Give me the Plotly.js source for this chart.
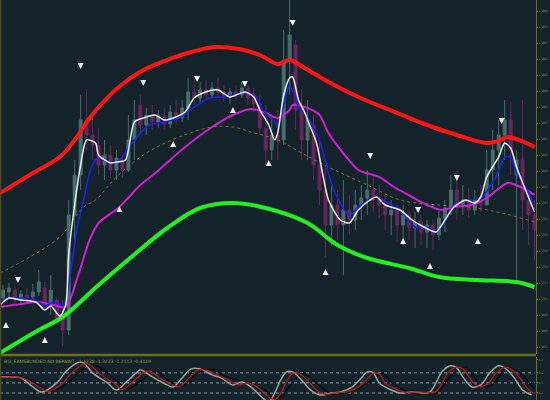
<!DOCTYPE html>
<html><head><meta charset="utf-8">
<script src="https://cdn.plot.ly/plotly-3.0.1.min.js"></script>
<style>html,body{margin:0;padding:0;background:#132329;}#chart{width:550px;height:400px;}</style>
</head><body><div id="chart"></div>
<script>
// ---- Candles (bar index, OHLC prices) ----
const candleX = [1,3,5,7,9,11,13,15,17,19,21,23,25,27,29,31,33,35,37,39,41,43,45,47,49,51,53,55,57,59,61,63,65,67,69,71,73,75,77,79,81,83,85,87,89,91,93,95,97,99,101,103,105,107,109,111,113,115,117,119,121,123,125,127,129,131,133,135,137,139,141,143,145,147,149,151,153,155,157,159,161,163,165,167,169,171,173,175,177,179];
const candleOpen = [1.3702,1.3708,1.3710,1.3700,1.3705,1.3703,1.3708,1.3712,1.3695,1.3700,1.3682,1.3670,1.3785,1.3825,1.3880,1.3865,1.3855,1.3835,1.3845,1.3830,1.3840,1.3830,1.3860,1.3895,1.3875,1.3885,1.3878,1.3884,1.3876,1.3888,1.3882,1.3892,1.3908,1.3902,1.3910,1.3905,1.3912,1.3908,1.3904,1.3908,1.3905,1.3912,1.3902,1.3896,1.3872,1.3850,1.3865,1.3860,1.3940,1.3955,1.3890,1.3860,1.3875,1.3835,1.3810,1.3775,1.3795,1.3775,1.3790,1.3780,1.3795,1.3802,1.3810,1.3800,1.3795,1.3785,1.3790,1.3775,1.3785,1.3772,1.3778,1.3768,1.3775,1.3765,1.3782,1.3792,1.3810,1.3795,1.3800,1.3790,1.3800,1.3795,1.3830,1.3850,1.3865,1.3880,1.3825,1.3840,1.3800,1.3785];
const candleHigh = [1.3715,1.3717,1.3714,1.3710,1.3712,1.3716,1.3730,1.3718,1.3725,1.3702,1.3700,1.3800,1.3840,1.3905,1.3910,1.3885,1.3872,1.3860,1.3855,1.3850,1.3845,1.3885,1.3900,1.3905,1.3892,1.3895,1.3890,1.3892,1.3895,1.3900,1.3900,1.3922,1.3920,1.3918,1.3920,1.3918,1.3922,1.3915,1.3912,1.3915,1.3918,1.3915,1.3912,1.3905,1.3895,1.3885,1.3890,1.3970,1.4000,1.3960,1.3910,1.3900,1.3885,1.3860,1.3835,1.3815,1.3810,1.3820,1.3805,1.3810,1.3815,1.3830,1.3825,1.3815,1.3805,1.3800,1.3795,1.3795,1.3790,1.3788,1.3785,1.3780,1.3780,1.3790,1.3800,1.3825,1.3830,1.3815,1.3812,1.3810,1.3815,1.3850,1.3870,1.3880,1.3900,1.3898,1.3850,1.3900,1.3805,1.3800];
const candleLow = [1.3700,1.3702,1.3695,1.3697,1.3698,1.3700,1.3704,1.3690,1.3685,1.3678,1.3654,1.3665,1.3760,1.3810,1.3850,1.3840,1.3825,1.3820,1.3822,1.3820,1.3822,1.3828,1.3840,1.3865,1.3865,1.3870,1.3872,1.3870,1.3872,1.3875,1.3878,1.3880,1.3895,1.3898,1.3900,1.3902,1.3902,1.3898,1.3896,1.3900,1.3902,1.3895,1.3888,1.3865,1.3835,1.3840,1.3840,1.3855,1.3905,1.3870,1.3840,1.3840,1.3820,1.3795,1.3743,1.3755,1.3760,1.3725,1.3765,1.3770,1.3780,1.3785,1.3788,1.3782,1.3770,1.3765,1.3758,1.3755,1.3760,1.3752,1.3755,1.3752,1.3750,1.3760,1.3768,1.3785,1.3780,1.3785,1.3782,1.3785,1.3788,1.3795,1.3810,1.3815,1.3840,1.3825,1.3720,1.3770,1.3755,1.3740];
const candleClose = [1.3710,1.3712,1.3700,1.3706,1.3703,1.3708,1.3718,1.3695,1.3710,1.3682,1.3670,1.3785,1.3825,1.3880,1.3865,1.3855,1.3835,1.3845,1.3830,1.3842,1.3830,1.3860,1.3880,1.3875,1.3885,1.3878,1.3884,1.3876,1.3888,1.3882,1.3892,1.3908,1.3902,1.3910,1.3905,1.3912,1.3908,1.3904,1.3908,1.3905,1.3912,1.3902,1.3896,1.3872,1.3850,1.3865,1.3860,1.3940,1.3965,1.3890,1.3860,1.3880,1.3835,1.3810,1.3775,1.3795,1.3775,1.3790,1.3780,1.3795,1.3802,1.3810,1.3800,1.3795,1.3785,1.3790,1.3775,1.3785,1.3772,1.3778,1.3768,1.3775,1.3765,1.3782,1.3792,1.3810,1.3795,1.3800,1.3790,1.3800,1.3795,1.3830,1.3850,1.3865,1.3880,1.3850,1.3840,1.3800,1.3785,1.3770];

// ---- Envelope bands ----
const redX = [0,11,20,25,30,34,39,48,56,64,72,80,87,93,97,102,110,120,133,143,153,163,167,170,179];
const redY = [1.3807,1.3827,1.3843,1.3860,1.3882,1.3896,1.3911,1.3930,1.3940,1.3948,1.3953,1.3951,1.3945,1.3936,1.3940,1.3932,1.3918,1.3903,1.3887,1.3875,1.3865,1.3857,1.3859,1.3863,1.3853];
const greenX = [0,13,21,33,44,56,67,78,89,103,113,123,137,147,160,173,179];
const greenY = [1.3647,1.3670,1.3683,1.3715,1.3743,1.3772,1.3792,1.3797,1.3792,1.3777,1.3755,1.3742,1.3732,1.3723,1.3720,1.3718,1.3713];

// ---- Moving averages ----
const slowX = [0,7,13,18,22,26,30,33,40,47,52,62,71,78,84,89,93,97,98,103,107,110,116,120,127,132,138,143,148,152,158,163,170,175,179];
const slowY = [1.3693,1.3696,1.3698,1.3695,1.3693,1.3723,1.3760,1.3777,1.3793,1.3815,1.3827,1.3853,1.3873,1.3885,1.3891,1.3887,1.3882,1.3890,1.3895,1.3892,1.3885,1.3867,1.3843,1.3830,1.3823,1.3813,1.3803,1.3795,1.3790,1.3793,1.3795,1.3802,1.3817,1.3812,1.3805];
const blueX = [0,7,12,15,18,21,22,24,26,28,30,32,33,37,40,45,50,53,60,65,70,75,78,82,86,88,92,93,95,97,100,103,107,110,112,117,120,126,130,134,139,143,146,148,152,157,161,166,169,171,173,176,179];
const blueY = [1.3700,1.3702,1.3700,1.3694,1.3698,1.3695,1.3700,1.3735,1.3775,1.3800,1.3827,1.3840,1.3842,1.3837,1.3840,1.3860,1.3875,1.3877,1.3882,1.3893,1.3902,1.3903,1.3905,1.3907,1.3903,1.3890,1.3878,1.3872,1.3895,1.3915,1.3893,1.3883,1.3860,1.3827,1.3808,1.3785,1.3793,1.3803,1.3797,1.3790,1.3773,1.3773,1.3768,1.3773,1.3795,1.3800,1.3802,1.3823,1.3843,1.3843,1.3827,1.3813,1.3795];
const whiteX = [0,3,7,12,15,17,20,22,23,25,27,29,32,33,37,39,42,45,48,52,55,58,62,65,68,73,77,82,85,87,90,92,93,95,97,98,100,102,103,106,108,110,114,117,120,123,126,129,134,138,142,146,149,152,156,159,161,163,167,169,171,173,176,179];
const whiteY = [1.3695,1.3702,1.3700,1.3698,1.3690,1.3694,1.3684,1.3695,1.3745,1.3795,1.3835,1.3860,1.3857,1.3845,1.3837,1.3838,1.3840,1.3878,1.3882,1.3885,1.3880,1.3882,1.3888,1.3902,1.3907,1.3910,1.3903,1.3908,1.3903,1.3890,1.3875,1.3860,1.3867,1.3905,1.3922,1.3923,1.3900,1.3888,1.3880,1.3857,1.3827,1.3800,1.3780,1.3777,1.3790,1.3798,1.3803,1.3795,1.3790,1.3780,1.3773,1.3768,1.3780,1.3793,1.3800,1.3797,1.3803,1.3823,1.3843,1.3857,1.3852,1.3833,1.3810,1.3788];
const longX = [0,10,20,28,32,39,49,60,71,78,84,93,101,112,123,134,147,157,168,179];
const longY = [1.3727,1.3743,1.3763,1.3793,1.3800,1.3823,1.3847,1.3863,1.3873,1.3873,1.3868,1.3860,1.3847,1.3830,1.3815,1.3800,1.3795,1.3793,1.3787,1.3778];

// ---- Signal arrows ----
const sellX = [6,27,48,66,82,98,124,140,153,168];
const sellY = [1.3717,1.3931,1.3914,1.3918,1.3913,1.3974,1.3841,1.3787,1.3819,1.3876];
const buyX = [2,15,40,58,78,90,109,135,144,160];
const buyY = [1.3678,1.3663,1.3794,1.3859,1.3893,1.3840,1.3731,1.3762,1.3737,1.3762];

// ---- Oscillator sub-window ----
const oscX = [0,4,7,11,14,19,22,26,28,31,36,39,42,46,47,51,56,58,61,64,67,71,74,78,81,84,88,90,92,94,96,98,101,104,107,111,114,118,121,123,125,127,131,134,138,142,144,146,148,151,153,155,158,161,164,167,169,172,175,178];
const oscMain = [0.68,0.68,0.65,0.38,0.23,0.50,0.83,1.10,1.10,0.80,0.50,0.29,0.50,0.83,0.89,0.68,0.44,0.38,0.65,0.92,0.92,0.74,0.65,0.44,0.53,0.38,0.05,-0.07,0.20,0.59,0.83,0.83,0.59,0.29,0.14,0.20,0.23,0.38,0.65,0.83,0.80,0.50,0.29,0.20,0.23,0.20,0.23,0.50,0.83,1.01,0.95,0.68,0.38,0.44,0.80,1.01,0.95,0.68,0.29,0.14];
const sigX = [0,5,9,13,16,21,24,28,30,33,38,41,44,48,50,53,58,60,63,66,69,73,76,80,83,86,90,92,94,96,98,100,103,106,109,113,116,120,123,125,127,129,133,136,140,144,146,148,150,153,155,157,160,163,166,169,171,174,177,179];
const sigRed = [0.66,0.68,0.60,0.38,0.24,0.50,0.80,1.06,1.05,0.80,0.50,0.31,0.50,0.80,0.86,0.68,0.44,0.38,0.62,0.88,0.88,0.72,0.62,0.44,0.50,0.38,0.08,0.00,0.18,0.55,0.79,0.79,0.57,0.29,0.16,0.21,0.23,0.38,0.62,0.79,0.77,0.50,0.30,0.21,0.23,0.21,0.24,0.48,0.80,0.97,0.92,0.68,0.40,0.45,0.78,0.97,0.92,0.66,0.30,0.18];
const slowOscX = [0,8,15,19,24,30,33,38,43,47,52,56,61,66,71,76,83,88,93,97,101,106,111,118,124,128,132,138,146,151,156,160,164,170,174,179];
const slowOsc = [0.72,0.66,0.35,0.30,0.60,1.05,0.98,0.65,0.33,0.55,0.85,0.60,0.40,0.78,0.90,0.68,0.50,0.33,0.02,0.40,0.78,0.50,0.18,0.25,0.55,0.78,0.45,0.20,0.20,0.70,0.98,0.55,0.40,0.96,0.80,0.32];
const oscLevels = [0.2, 0.5, 0.8];
const oscTitle = "RSI_EAMSBUNDED NO REPAINT  -1.1238 -1.3223 -1.2113 -0.4119";

const olive = '#6e6e1e';
const axisFont = {family:'DejaVu Sans Condensed, DejaVu Sans', size:3, color:'#8c8c3c'};
const traces = [
  {type:'candlestick', x:candleX, open:candleOpen, high:candleHigh, low:candleLow, close:candleClose,
   xaxis:'x', yaxis:'y', whiskerwidth:0, opacity:0.8,
   increasing:{line:{color:'#56807e', width:1}, fillcolor:'#56807e'},
   decreasing:{line:{color:'#82266b', width:1}, fillcolor:'#82266b'}, hoverinfo:'skip'},
  {type:'scatter', mode:'lines', x:longX, y:longY, line:{color:'#857326', width:1, dash:'dot', shape:'spline'}, xaxis:'x', yaxis:'y'},
  {type:'scatter', mode:'lines', x:greenX, y:greenY, line:{color:'#22f022', width:4, shape:'spline'}, xaxis:'x', yaxis:'y'},
  {type:'scatter', mode:'lines', x:redX, y:redY, line:{color:'#ff1414', width:4, shape:'spline'}, xaxis:'x', yaxis:'y'},
  {type:'scatter', mode:'lines', x:slowX, y:slowY, line:{color:'#d21ed2', width:2, shape:'spline', smoothing:0.8}, xaxis:'x', yaxis:'y'},
  {type:'scatter', mode:'lines', x:blueX, y:blueY, line:{color:'#1a22ee', width:1.6, shape:'spline', smoothing:0.7}, xaxis:'x', yaxis:'y'},
  {type:'scatter', mode:'lines', x:whiteX, y:whiteY, line:{color:'#ececec', width:1.5, shape:'spline', smoothing:0.7}, xaxis:'x', yaxis:'y'},
  {type:'scatter', mode:'markers', x:sellX, y:sellY, marker:{symbol:'arrow-down', size:6, color:'#f2f2f2'}, xaxis:'x', yaxis:'y'},
  {type:'scatter', mode:'markers', x:buyX, y:buyY, marker:{symbol:'arrow-up', size:6, color:'#f2f2f2'}, xaxis:'x', yaxis:'y'},
  {type:'scatter', mode:'lines', x:slowOscX, y:slowOsc, line:{color:'#060d10', width:1.2, shape:'spline'}, xaxis:'x2', yaxis:'y2'},
  {type:'scatter', mode:'lines', x:oscX, y:oscMain, line:{color:'#9aa4a4', width:1.5, shape:'spline'}, xaxis:'x2', yaxis:'y2'},
  {type:'scatter', mode:'lines', x:sigX, y:sigRed, line:{color:'#c01818', width:1.2, shape:'spline'}, xaxis:'x2', yaxis:'y2'}
];

const shapes = oscLevels.map(v => ({type:'line', xref:'x2', yref:'y2', x0:0, x1:179, y0:v, y1:v,
  line:{color:'#8a9a9a', width:1, dash:'dot'}, layer:'below'}));
shapes.push({type:'line', xref:'paper', yref:'paper', x0:0, x1:1, y0:0.1125, y1:0.1125, line:{color:olive, width:2.5}});
shapes.push({type:'line', xref:'paper', yref:'paper', x0:0.001, x1:0.001, y0:0, y1:1, line:{color:'#4a4a1a', width:1.5}});

const layout = {
  width:550, height:400, showlegend:false,
  paper_bgcolor:'#132329', plot_bgcolor:'#132329',
  margin:{l:0, r:14, t:0, b:0},
  xaxis:{domain:[0,1], range:[0,179.5], showticklabels:false, showgrid:false, zeroline:false, ticks:'', rangeslider:{visible:false}, fixedrange:true},
  xaxis2:{domain:[0,1], range:[0,179.5], anchor:'y2', showticklabels:false, showgrid:false, zeroline:false, ticks:''},
  yaxis:{domain:[0.115,1], range:[1.3646,1.4000], side:'right', tick0:1.3989, dtick:0.0016, tickformat:'.4f',
    showgrid:false, zeroline:false, showline:true, linecolor:olive, linewidth:1, ticks:'outside', ticklen:1, tickcolor:olive,
    ticklabelstandoff:0, tickfont:axisFont},
  yaxis2:{domain:[0,0.108], range:[-0.01,1.28], side:'right', anchor:'x2', tickvals:[0.2,0.5,0.8,1.2],
    showgrid:false, zeroline:false, showline:true, linecolor:olive, ticks:'outside', ticklen:1, tickcolor:olive,
    ticklabelstandoff:0, tickfont:axisFont},
  shapes:shapes,
  annotations:[{xref:'paper', yref:'paper', x:0.004, y:0.107, xanchor:'left', yanchor:'top', showarrow:false,
    text:oscTitle, font:{family:'DejaVu Sans', size:4.5, color:'#9a9a3a'}}]
};
Plotly.newPlot('chart', traces, layout, {displayModeBar:false, staticPlot:true});
</script></body></html>
